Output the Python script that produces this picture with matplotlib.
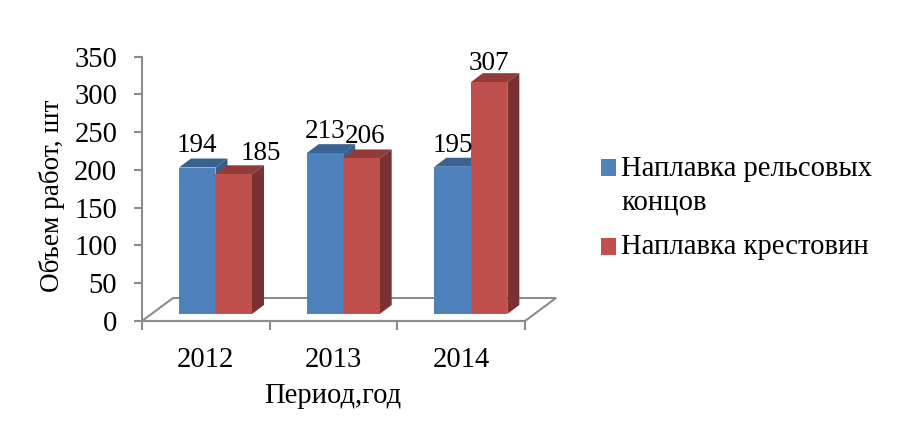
import matplotlib
matplotlib.use("Agg")
import matplotlib.pyplot as plt
from matplotlib.patches import Patch, Polygon

plt.rcParams['font.family'] = ['Liberation Serif', 'DejaVu Serif']

years = ['2012', '2013', '2014']
rail_ends = [194, 213, 195]
frogs = [185, 206, 307]
series_names = ['Наплавка рельсовых\nконцов', 'Наплавка крестовин']
yticks = [0, 50, 100, 150, 200, 250, 300, 350]
# label offsets in pixels from the bar's top centre
rail_offsets = [(0, 22), (0, 22), (0, 21)]
frog_offsets = [(27, 21), (4, 22), (0, 19)]

W, H = 903, 441
L, R, B, T = 142, 525, 321, 56.7
fig = plt.figure(figsize=(W / 100, H / 100), dpi=100, facecolor='white')
ax = fig.add_axes([L / W, 1 - B / H, (R - L) / W, (B - T) / H])
ax.set_xlim(0, 3)
ax.set_ylim(0, 350)
ax.patch.set_visible(False)

ux = (R - L) / 3            # px per category
uy = (B - T) / 350          # px per value
DX, DY = 12 / ux, 9 / uy    # bar depth
BASE = 7 / uy               # lift of bar base over the front floor edge
BW = 36.5 / ux
X0 = 37 / ux
GREY = '#8c8c8c'

# floor
fx, fy = 31 / ux, 23 / uy
ax.plot([0, fx, 3 + fx, 3, 0], [0, fy, fy, 0, 0], color=GREY, lw=1.5,
        clip_on=False, zorder=1, solid_joinstyle='miter')


def bar3d(x, v, front, top, side, z):
    ax.bar(x, v, BW, bottom=BASE, align='edge', color=front, zorder=z + 0.2,
           clip_on=False, linewidth=0)
    y1 = BASE + v
    ax.add_patch(Polygon([(x, y1), (x + BW, y1), (x + BW + DX, y1 + DY), (x + DX, y1 + DY)],
                         closed=True, fc=top, ec='none', zorder=z, clip_on=False))
    ax.add_patch(Polygon([(x + BW, BASE), (x + BW + DX, BASE + DY), (x + BW + DX, y1 + DY), (x + BW, y1)],
                         closed=True, fc=side, ec='none', zorder=z, clip_on=False))


for i in range(3):
    xa = i + X0
    xb = xa + BW
    bar3d(xa, rail_ends[i], '#4f81bd', '#3a6291', '#375d8a', 2 + i)
    bar3d(xb, frogs[i], '#c0504d', '#943a38', '#7a3130', 2.5 + i)
    for x, v, off in ((xa, rail_ends[i], rail_offsets[i]), (xb, frogs[i], frog_offsets[i])):
        ax.annotate(str(v), (x + BW / 2, BASE + v), xytext=off, textcoords='offset pixels',
                    ha='center', va='center', fontsize=19.5, color='black', zorder=10,
                    annotation_clip=False)

for s in ('top', 'right'):
    ax.spines[s].set_visible(False)
for s in ('left', 'bottom'):
    ax.spines[s].set_color(GREY)
    ax.spines[s].set_linewidth(1.5)
    ax.spines[s].set_zorder(1)

ax.set_yticks(yticks)
ax.tick_params(axis='y', length=5.8, width=1.5, color=GREY, labelsize=20.6, pad=12)
ax.set_xticks([0, 1, 2, 3])
ax.set_xticklabels([])
ax.tick_params(axis='x', which='major', length=6.5, width=1.5, color=GREY)
ax.set_xticks([0.5, 1.5, 2.5], minor=True)
ax.set_xticklabels(years, minor=True)
ax.tick_params(axis='x', which='minor', length=0, labelsize=20.6, pad=19)

ax.set_xlabel('Период,год', fontsize=20.6)
ax.xaxis.set_label_coords((333 - L) / (R - L), (B - 396) / (B - T), transform=ax.transAxes)
ax.xaxis.label.set_verticalalignment('center')
ax.set_ylabel('Объем работ, шт', fontsize=19.6)
ax.yaxis.set_label_coords((52 - L) / (R - L), (B - 196) / (B - T), transform=ax.transAxes)
ax.yaxis.label.set_verticalalignment('center')

handles = [Patch(fc='#4f81bd', ec='none'), Patch(fc='#c0504d', ec='none')]
leg = fig.legend(handles, series_names, loc='upper left',
                 bbox_to_anchor=(601 / W, 1 - 156 / H), frameon=False, fontsize=20.6,
                 handlelength=0.507, handleheight=0.507, handletextpad=0.2, labelspacing=0.65,
                 borderpad=0, borderaxespad=0)
for t in leg.get_texts():
    t.set_linespacing(1.36)
leg.get_patches()[0].set_y(14.2)
leg.get_patches()[1].set_y(-0.7)

fig.savefig('out.png', dpi=100, facecolor='white')
